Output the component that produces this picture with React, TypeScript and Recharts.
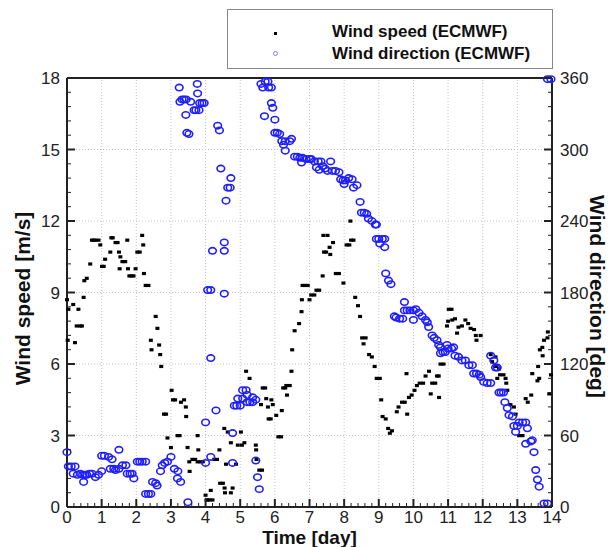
import { Legend, ReferenceLine, Scatter, ScatterChart, XAxis, YAxis } from "recharts";

// [day, m/s]
const speedPoints: [number, number][] = [
  [0.0, 8.7], [0.02, 7.0], [0.04, 8.3], [0.18, 8.5], [0.23, 6.9], [0.28, 7.6], [0.33, 8.3], [0.38, 7.6],
  [0.43, 7.6], [0.48, 8.8], [0.5, 9.5], [0.57, 9.6], [0.67, 10.2], [0.72, 11.2], [0.77, 11.2], [0.82, 11.2],
  [0.91, 11.2], [0.96, 11.0], [1.01, 10.1], [1.06, 10.1], [1.1, 10.4], [1.25, 10.7], [1.28, 11.3], [1.32, 11.3],
  [1.4, 11.1], [1.46, 11.1], [1.5, 10.7], [1.52, 10.0], [1.54, 10.5], [1.6, 10.3], [1.68, 10.3], [1.74, 11.2],
  [1.76, 10.0], [1.8, 9.7], [1.86, 9.7], [1.92, 9.7], [1.98, 10.0], [2.03, 10.7], [2.1, 10.7], [2.17, 11.4],
  [2.2, 11.0], [2.22, 9.8], [2.27, 9.3], [2.35, 9.3], [2.42, 7.0], [2.44, 6.6], [2.56, 8.0], [2.61, 7.5],
  [2.66, 6.8], [2.69, 6.4], [2.72, 5.9], [2.8, 3.9], [2.86, 3.9], [2.9, 2.9], [3.0, 2.5], [3.02, 4.9],
  [3.06, 4.5], [3.12, 4.5], [3.19, 3.0], [3.25, 3.0], [3.29, 4.4], [3.38, 4.5], [3.43, 4.2], [3.44, 3.8],
  [3.48, 2.5], [3.53, 1.9], [3.54, 1.5], [3.62, 2.0], [3.7, 2.0], [3.77, 1.9], [3.77, 3.0], [3.79, 2.4],
  [3.85, 1.9], [3.92, 1.9], [4.0, 0.5], [4.03, 0.3], [4.06, 0.3], [4.12, 0.3], [4.15, 0.7], [4.2, 0.3],
  [4.25, 2.0], [4.33, 2.0], [4.4, 2.4], [4.42, 1.0], [4.5, 1.0], [4.54, 3.3], [4.55, 0.8], [4.56, 0.6],
  [4.59, 1.8], [4.64, 3.15], [4.73, 0.6], [4.73, 2.7], [4.78, 0.8], [4.88, 1.8], [4.93, 2.6], [5.02, 3.15],
  [5.05, 2.6], [5.12, 2.7], [5.17, 5.7], [5.27, 5.4], [5.45, 2.6], [5.46, 2.4], [5.47, 2.0], [5.55, 1.55],
  [5.6, 4.3], [5.63, 1.55], [5.65, 5.0], [5.72, 5.0], [5.75, 4.55], [5.8, 4.2], [5.82, 3.7], [5.88, 3.7],
  [5.9, 4.5], [5.94, 4.3], [6.04, 3.85], [6.1, 2.95], [6.18, 2.95], [6.2, 4.05], [6.24, 5.0], [6.3, 5.0],
  [6.33, 5.1], [6.35, 4.7], [6.43, 5.1], [6.48, 5.7], [6.5, 6.6], [6.57, 7.4], [6.7, 7.7], [6.77, 8.2],
  [6.78, 8.7], [6.8, 9.3], [6.88, 9.3], [6.95, 9.3], [7.0, 8.7], [7.05, 8.9], [7.14, 8.9], [7.2, 9.1],
  [7.28, 9.1], [7.38, 9.7], [7.4, 11.4], [7.42, 10.7], [7.48, 10.7], [7.52, 11.4], [7.58, 10.9], [7.6, 10.6],
  [7.68, 11.1], [7.76, 9.8], [7.85, 9.8], [7.98, 9.4], [8.07, 11.0], [8.15, 11.0], [8.18, 12.0], [8.2, 11.2],
  [8.27, 11.2], [8.32, 8.8], [8.4, 8.45], [8.46, 8.0], [8.52, 7.1], [8.56, 6.85], [8.62, 7.1], [8.72, 6.4],
  [8.8, 6.3], [8.88, 5.9], [8.94, 5.4], [9.03, 5.4], [9.07, 4.5], [9.11, 3.8], [9.2, 3.7], [9.27, 3.3],
  [9.32, 3.1], [9.38, 3.2], [9.52, 4.0], [9.57, 4.2], [9.67, 4.4], [9.75, 4.4], [9.8, 5.6], [9.82, 3.9],
  [9.87, 4.6], [9.95, 4.7], [10.03, 4.9], [10.1, 5.1], [10.18, 5.2], [10.28, 5.2], [10.35, 5.5], [10.45, 5.7],
  [10.5, 4.75], [10.54, 5.2], [10.63, 5.2], [10.68, 5.5], [10.73, 5.5], [10.74, 4.6], [10.78, 6.0], [10.87, 6.0],
  [10.97, 7.6], [11.0, 7.8], [11.02, 8.3], [11.1, 8.3], [11.12, 7.85], [11.2, 7.9], [11.26, 7.3], [11.3, 7.55],
  [11.4, 7.6], [11.5, 7.85], [11.58, 7.7], [11.65, 7.5], [11.75, 7.45], [11.8, 7.2], [11.82, 7.0], [11.94, 7.2],
  [12.23, 6.4], [12.27, 6.1], [12.37, 6.3], [12.38, 5.9], [12.42, 5.4], [12.47, 5.8], [12.5, 5.55], [12.6, 5.55],
  [12.66, 5.4], [12.68, 5.2], [12.71, 4.9], [12.8, 4.3], [12.9, 4.2], [12.95, 3.9], [13.05, 3.0], [13.15, 3.0],
  [13.24, 4.55], [13.3, 4.4], [13.4, 4.7], [13.43, 5.6], [13.58, 5.3], [13.6, 5.9], [13.63, 5.4], [13.65, 6.6],
  [13.72, 6.7], [13.73, 6.35], [13.77, 7.0], [13.87, 7.1], [13.88, 7.35], [13.92, 4.75], [13.97, 5.55],
];

// [day, deg]
const directionPoints: [number, number][] = [
  [0.0, 46], [0.04, 34], [0.12, 34], [0.18, 28], [0.23, 34], [0.3, 27], [0.38, 28], [0.45, 27], [0.48, 21],
  [0.52, 27], [0.57, 27], [0.65, 28], [0.72, 28], [0.82, 25], [0.91, 27], [1.0, 30], [1.0, 43], [1.08, 43],
  [1.2, 42], [1.25, 32], [1.3, 40], [1.35, 32], [1.4, 31], [1.5, 48], [1.5, 32], [1.6, 35], [1.7, 35],
  [1.74, 28], [1.82, 28], [1.88, 28], [1.93, 24], [2.03, 38], [2.1, 38], [2.17, 38], [2.27, 38], [2.27, 11],
  [2.35, 11], [2.42, 11], [2.47, 21], [2.56, 20], [2.6, 18], [2.7, 30], [2.75, 35], [2.82, 37], [2.9, 38],
  [3.0, 42], [3.1, 32], [3.2, 30], [3.19, 24], [3.24, 352], [3.26, 340], [3.28, 21], [3.32, 342], [3.38, 342],
  [3.43, 329], [3.44, 342], [3.46, 314], [3.49, 4], [3.52, 313], [3.57, 340], [3.67, 333], [3.72, 333],
  [3.76, 355], [3.77, 347], [3.81, 333], [3.83, 339], [3.9, 339], [3.96, 339], [4.0, 71], [4.0, 37],
  [4.06, 182], [4.15, 182], [4.15, 125], [4.15, 42], [4.2, 215], [4.3, 81], [4.35, 320], [4.4, 316],
  [4.44, 284], [4.54, 215], [4.54, 222], [4.54, 179], [4.59, 257], [4.64, 268], [4.71, 268], [4.73, 276],
  [4.78, 37], [4.78, 62], [4.83, 85], [4.9, 85], [4.93, 91], [5.0, 85], [5.07, 91], [5.07, 98], [5.17, 98],
  [5.2, 94], [5.2, 88], [5.28, 88], [5.36, 92], [5.36, 88], [5.45, 90], [5.45, 39], [5.5, 25], [5.55, 15],
  [5.6, 355], [5.65, 352], [5.7, 328], [5.72, 357], [5.8, 357], [5.82, 352], [5.9, 352], [5.9, 339],
  [5.94, 335], [6.0, 325], [6.0, 314], [6.07, 314], [6.14, 313], [6.2, 307], [6.25, 304], [6.3, 307],
  [6.3, 299], [6.43, 307], [6.48, 309], [6.57, 294], [6.65, 294], [6.72, 293], [6.77, 289], [6.8, 293],
  [6.9, 292], [7.0, 292], [7.05, 292], [7.14, 290], [7.2, 285], [7.25, 290], [7.28, 283], [7.33, 290],
  [7.38, 286], [7.45, 284], [7.52, 282], [7.61, 290], [7.66, 282], [7.75, 282], [7.85, 281], [7.9, 275],
  [7.97, 274], [8.0, 271], [8.04, 274], [8.13, 276], [8.23, 275], [8.27, 268], [8.37, 270], [8.46, 256],
  [8.5, 247], [8.58, 247], [8.65, 246], [8.7, 242], [8.8, 240], [8.9, 237], [8.93, 237], [8.93, 225],
  [9.0, 225], [9.03, 221], [9.1, 225], [9.17, 225], [9.17, 218], [9.2, 196], [9.28, 190], [9.35, 187],
  [9.45, 160], [9.5, 159], [9.6, 158], [9.69, 158], [9.74, 172], [9.74, 165], [9.82, 165], [9.9, 165],
  [10.0, 165], [10.0, 157], [10.07, 166], [10.16, 163], [10.25, 160], [10.35, 157], [10.4, 155], [10.44, 151],
  [10.54, 144], [10.6, 142], [10.68, 140], [10.73, 136], [10.78, 134], [10.78, 129], [10.85, 130],
  [10.92, 130], [10.97, 136], [11.0, 133], [11.1, 133], [11.16, 134], [11.2, 127], [11.3, 126], [11.4, 123],
  [11.5, 123], [11.6, 119], [11.7, 119], [11.74, 112], [11.82, 112], [11.9, 111], [11.94, 109], [12.03, 105],
  [12.13, 104], [12.23, 104], [12.23, 127], [12.32, 123], [12.37, 117], [12.42, 117], [12.47, 96], [12.53, 96],
  [12.6, 96], [12.64, 88], [12.71, 83], [12.76, 77], [12.86, 76], [12.9, 68], [12.95, 63], [13.0, 68],
  [13.05, 71], [13.15, 71], [13.24, 71], [13.24, 53], [13.29, 66], [13.39, 55], [13.43, 56], [13.48, 46],
  [13.53, 31], [13.58, 23], [13.63, 17], [13.77, 3], [13.87, 3], [13.87, 359], [13.97, 359],
];

const dayLabels = [0, 1, 2, 3, 4, 5, 6, 7, 8, 9, 10, 11, 12, 13, 14];
const speedLabels = [0, 3, 6, 9, 12, 15, 18];
const directionLabels = [0, 60, 120, 180, 240, 300, 360];
const seriesNames = ["Wind speed (ECMWF)", "Wind direction (ECMWF)"];

const speedData = speedPoints.map(([day, value]) => ({ day, value }));
const directionData = directionPoints.map(([day, value]) => ({ day, value }));

// 4 minor ticks between labelled ones
const subdivide = (major: number[], parts: number) => {
  const out: number[] = [];
  for (let i = 0; i < major.length - 1; i++) {
    for (let k = 0; k < parts; k++) {
      out.push(Math.round((major[i] + ((major[i + 1] - major[i]) * k) / parts) * 1000) / 1000);
    }
  }
  out.push(major[major.length - 1]);
  return out;
};

const isMajor = (v: number, labels: number[]) => labels.some((l) => Math.abs(l - v) < 1e-6);

const AXIS = "#222";
const BLUE = "#1e1eff";

const makeTick = (side: "bottom" | "left" | "right", labels: number[]) => (props: any) => {
  const { x, y, payload } = props;
  const v = payload.value;
  const major = isMajor(v, labels);
  const len = major ? 8 : 4;
  const w = major ? 2 : 1;
  if (side === "bottom") {
    return (
      <g>
        <line x1={x} x2={x} y1={y} y2={y - len} stroke={AXIS} strokeWidth={w} />
        {major && (
          <text x={x} y={y + 16} textAnchor="middle" fontSize={17} fill={AXIS}>
            {v}
          </text>
        )}
      </g>
    );
  }
  const dir = side === "left" ? 1 : -1;
  return (
    <g>
      <line x1={x} x2={x + dir * len} y1={y} y2={y} stroke={AXIS} strokeWidth={w} />
      {major && (
        <text
          x={side === "left" ? x - 7 : x + 8}
          y={y + 6}
          textAnchor={side === "left" ? "end" : "start"}
          fontSize={17}
          fill={AXIS}
        >
          {v}
        </text>
      )}
    </g>
  );
};

const SpeedDot = (props: any) => (
  <rect x={props.cx - 2} y={props.cy - 1.5} width={4} height={3.2} fill="#000" />
);

const DirectionDot = (props: any) => (
  <ellipse cx={props.cx} cy={props.cy} rx={3.8} ry={3.2} fill="none" stroke={BLUE} strokeWidth={1.6} />
);

const LegendBox = (props: any) => {
  const payload = props.payload || [];
  const items = seriesNames.filter((n) => payload.some((p: any) => p.value === n));
  return (
    <div
      style={{
        position: "relative",
        width: 324,
        height: 58,
        border: "1px solid #888",
        background: "#fff",
        fontFamily: "'Liberation Sans', Arial, sans-serif",
      }}
    >
      {items.map((name, i) => (
        <div key={name}>
          {i === 0 ? (
            <div style={{ position: "absolute", left: 46, top: 22, width: 3, height: 3, background: "#000" }} />
          ) : (
            <div
              style={{
                position: "absolute",
                left: 45,
                top: 41,
                width: 3,
                height: 3,
                borderRadius: "50%",
                border: "1px solid #8080ff",
              }}
            />
          )}
          <div
            style={{
              position: "absolute",
              left: 104,
              top: 13 + i * 22,
              fontSize: 17,
              lineHeight: "17px",
              fontWeight: "bold",
              color: "#111",
              whiteSpace: "nowrap",
            }}
          >
            {name}
          </div>
        </div>
      ))}
    </div>
  );
};

export default function App() {
  return (
    <div
      style={{
        position: "absolute",
        left: 0,
        top: 0,
        width: 616,
        height: 547,
        background: "#fff",
        fontFamily: "'Liberation Sans', Arial, sans-serif",
      }}
    >
      <ScatterChart width={616} height={547} margin={{ top: 78, right: 0, bottom: 0, left: 0 }}>
        <XAxis
          type="number"
          dataKey="day"
          domain={[0, 14]}
          ticks={subdivide(dayLabels, 5)}
          interval={0}
          height={40}
          tickSize={0}
          tickMargin={0}
          tick={makeTick("bottom", dayLabels)}
          axisLine={{ stroke: AXIS, strokeWidth: 2 }}
          label={(p: any) => (
            <text
              x={p.viewBox.x + p.viewBox.width / 2}
              y={p.viewBox.y + 37}
              textAnchor="middle"
              fontSize={19}
              fontWeight="bold"
              fill="#111"
            >
              Time [day]
            </text>
          )}
        />
        <YAxis
          yAxisId="left"
          type="number"
          dataKey="value"
          domain={[0, 18]}
          ticks={subdivide(speedLabels, 5)}
          interval={0}
          width={67}
          tickSize={0}
          tickMargin={0}
          tick={makeTick("left", speedLabels)}
          axisLine={{ stroke: AXIS, strokeWidth: 2 }}
          label={(p: any) => {
            const cx = p.viewBox.x + 30;
            const cy = p.viewBox.y + p.viewBox.height / 2 + 6;
            return (
              <text
                x={cx}
                y={cy}
                transform={`rotate(-90 ${cx} ${cy})`}
                textAnchor="middle"
                fontSize={21}
                fontWeight="bold"
                fill="#111"
              >
                Wind speed [m/s]
              </text>
            );
          }}
        />
        <YAxis
          yAxisId="right"
          orientation="right"
          type="number"
          dataKey="value"
          domain={[0, 360]}
          ticks={subdivide(directionLabels, 5)}
          interval={0}
          width={64}
          tickSize={0}
          tickMargin={0}
          tick={makeTick("right", directionLabels)}
          axisLine={{ stroke: AXIS, strokeWidth: 2 }}
          label={(p: any) => {
            const cx = p.viewBox.x + 38;
            const cy = p.viewBox.y + p.viewBox.height / 2 + 4;
            return (
              <text
                x={cx}
                y={cy}
                transform={`rotate(90 ${cx} ${cy})`}
                textAnchor="middle"
                fontSize={21}
                fontWeight="bold"
                fill="#111"
              >
                Wind direction [deg]
              </text>
            );
          }}
        />
        {dayLabels.slice(1, -1).map((d) => (
          <ReferenceLine key={`gx${d}`} x={d} yAxisId="left" stroke="#c4c4c4" strokeDasharray="1 2" />
        ))}
        {speedLabels.slice(1, -1).map((s) => (
          <ReferenceLine key={`gy${s}`} y={s} yAxisId="left" stroke="#c4c4c4" strokeDasharray="1 2" />
        ))}
        <ReferenceLine y={18} yAxisId="left" stroke={AXIS} strokeWidth={2} />
        <Legend
          layout="vertical"
          align="center"
          verticalAlign="middle"
          wrapperStyle={{ left: 227, top: 9, width: 326, height: 60 }}
          content={LegendBox}
        />
        <Scatter
          name={seriesNames[0]}
          data={speedData}
          yAxisId="left"
          fill="#000"
          shape={SpeedDot}
          isAnimationActive={false}
        />
        <Scatter
          name={seriesNames[1]}
          data={directionData}
          yAxisId="right"
          fill={BLUE}
          shape={DirectionDot}
          isAnimationActive={false}
        />
      </ScatterChart>
    </div>
  );
}
